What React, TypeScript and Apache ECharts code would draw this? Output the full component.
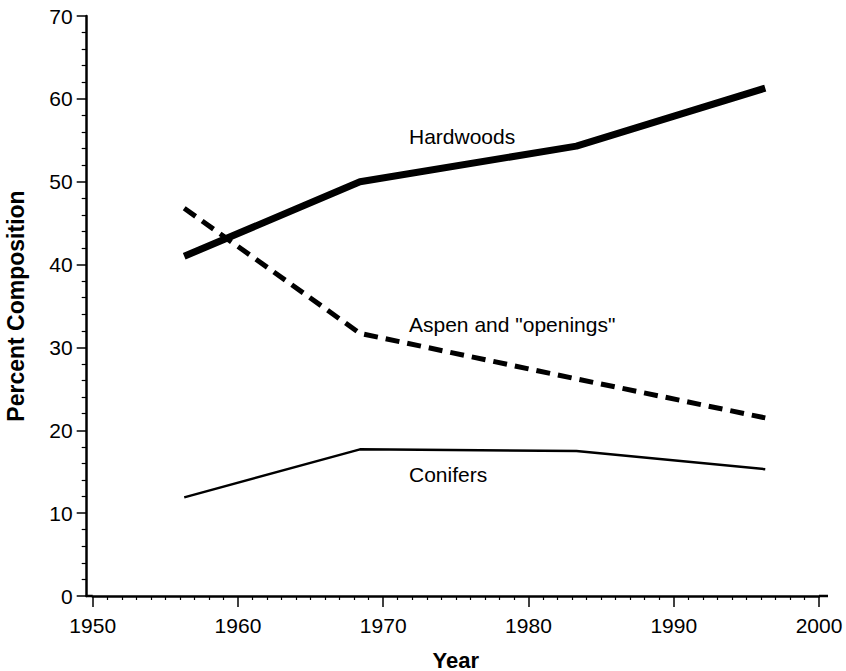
import React, { useEffect, useRef } from "react";
import * as echarts from "echarts";

const surveyYears = [1956.3, 1968.4, 1983.3, 1996.3];
const hardwoods = [41, 50, 54.3, 61.3];
const aspenOpenings = [46.8, 31.7, 26.2, 21.5];
const conifers = [11.9, 17.7, 17.5, 15.3];

const seriesNames = ["Hardwoods", 'Aspen and "openings"', "Conifers"];

const FONT = "'Liberation Sans', Arial, Helvetica, sans-serif";

export default function App() {
  const ref = useRef<HTMLDivElement>(null);
  useEffect(() => {
    if (!ref.current) return;
    const chart = echarts.init(ref.current, null, { renderer: "svg" });
    const pair = (vals: number[]) => surveyYears.map((y, i) => [y, vals[i]]);
    chart.setOption({
      animation: false,
      backgroundColor: "#ffffff",
      grid: { left: 92.7, right: 27, top: 16, bottom: 75, outerBoundsMode: "none", containLabel: false },
      xAxis: {
        type: "value",
        min: 1950,
        max: 2000,
        interval: 10,
        name: "Year",
        nameLocation: "middle",
        nameGap: 53,
        nameTextStyle: { fontFamily: FONT, fontWeight: "bold", fontSize: 22, color: "#000" },
        axisLine: { show: true, lineStyle: { color: "#000", width: 2.5 } },
        axisTick: { show: true, length: 11, lineStyle: { color: "#000", width: 1.5 } },
        minorTick: { show: true, splitNumber: 10, length: 4, lineStyle: { color: "#000", width: 1.2 } },
        axisLabel: {
          fontFamily: FONT,
          fontSize: 21,
          color: "#000",
          margin: 19,
          formatter: (v: number) => String(v),
        },
        splitLine: { show: false },
      },
      yAxis: {
        type: "value",
        min: 0,
        max: 70,
        interval: 10,
        offset: 6,
        name: "Percent Composition",
        nameLocation: "middle",
        nameGap: 59,
        nameTextStyle: { fontFamily: FONT, fontWeight: "bold", fontSize: 23, color: "#000" },
        axisLine: { show: true, lineStyle: { color: "#000", width: 2.5 } },
        axisTick: { show: true, length: 10, lineStyle: { color: "#000", width: 1.5 } },
        minorTick: { show: true, splitNumber: 5, length: 5, lineStyle: { color: "#000", width: 1.2 } },
        axisLabel: { fontFamily: FONT, fontSize: 21, color: "#000", margin: 14 },
        splitLine: { show: false },
      },
      series: [
        {
          name: seriesNames[0],
          type: "line",
          data: pair(hardwoods),
          symbol: "none",
          lineStyle: { color: "#000", width: 7, cap: "butt", join: "round" },
        },
        {
          name: seriesNames[1],
          type: "line",
          data: pair(aspenOpenings),
          symbol: "none",
          lineStyle: { color: "#000", width: 5, type: [14, 8], cap: "butt" },
        },
        {
          name: seriesNames[2],
          type: "line",
          data: pair(conifers),
          symbol: "none",
          lineStyle: { color: "#000", width: 2.5, cap: "butt" },
        },
      ],
    });
    const p0 = chart.convertToPixel({ gridIndex: 0 }, [1950, 0]) as number[];
    const p1 = chart.convertToPixel({ gridIndex: 0 }, [2000, 0]) as number[];
    chart.setOption({
      graphic: [
        {
          type: "line",
          shape: { x1: p0[0] - 7, y1: p0[1], x2: p0[0], y2: p0[1] },
          style: { stroke: "#000", lineWidth: 2.5 },
        },
        {
          type: "line",
          shape: { x1: p1[0], y1: p1[1], x2: p1[0] + 9, y2: p1[1] },
          style: { stroke: "#000", lineWidth: 2.5 },
        },
        {
          type: "text",
          left: 409,
          top: 126,
          style: { text: seriesNames[0], fontFamily: FONT, fontSize: 21, fill: "#000" },
        },
        {
          type: "text",
          left: 409,
          top: 314,
          style: { text: seriesNames[1], fontFamily: FONT, fontSize: 21, fill: "#000" },
        },
        {
          type: "text",
          left: 409,
          top: 464,
          style: { text: seriesNames[2], fontFamily: FONT, fontSize: 21, fill: "#000" },
        },
      ],
    });
    return () => chart.dispose();
  }, []);
  return (
    <div
      ref={ref}
      style={{ position: "fixed", left: 0, top: 0, width: 846, height: 671 }}
    />
  );
}
